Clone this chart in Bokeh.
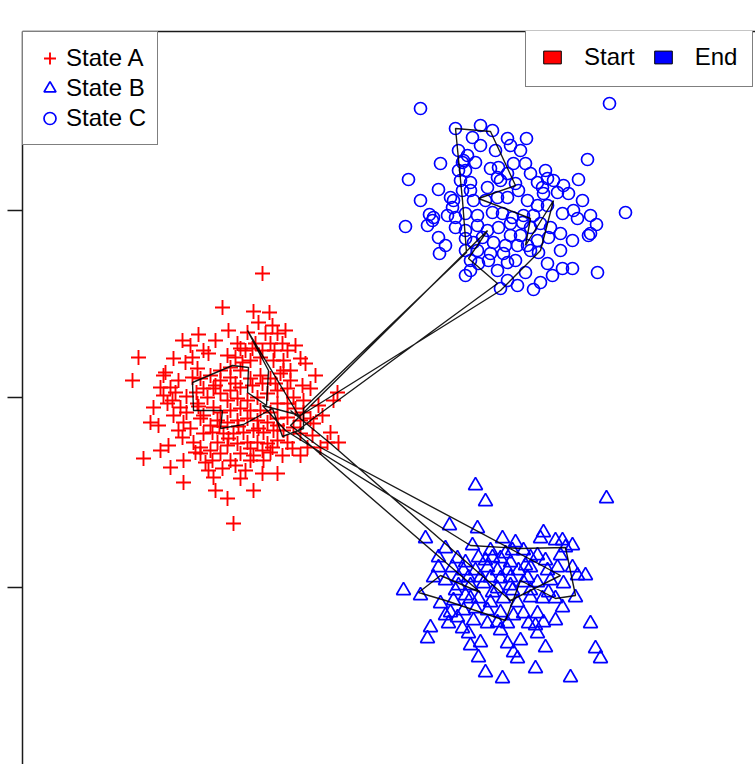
from bokeh.plotting import figure
from bokeh.models import (LinearAxis, FixedTicker, Range1d, Legend, LegendItem,
                          CustomLabelingPolicy)
from bokeh.embed import file_html
from bokeh.resources import INLINE

# ---------------- data (arbitrary units) ----------------
state_a_x = [240, 200, 231, 247, 176, 160, 116, 110, 151, 181, 186, 138, 141, 128, 136, 121, 148, 161, 161, 191,
             193, 218, 231, 205, 211, 240, 255, 241, 228, 208, 305, 316, 315, 311, 283, 293, 280, 265, 255, 243,
             225, 215, 205, 213, 208, 198, 175, 170, 156, 141, 148, 150, 158, 151, 161, 168, 160, 171, 178, 188,
             190, 198, 181, 188, 181, 175, 185, 191, 181, 178, 188, 198, 208, 218, 228, 238, 251, 261, 268, 258,
             248, 238, 228, 218, 208, 198, 205, 215, 225, 235, 245, 255, 265, 271, 265, 255, 248, 238, 228, 218,
             208, 198, 191, 195, 205, 215, 225, 235, 245, 255, 265, 271, 261, 251, 241, 231, 221, 211, 201, 195,
             205, 215, 225, 235, 245, 255, 265, 278, 285, 298, 291, 281, 281, 231, 218, 178, 186, 145, 131, 170,
             163, 248, 260, 230, 218, 288, 278,
             168, 193, 206, 236, 250, 263, 273, 278, 288, 296, 300, 223, 233, 240, 252, 174, 164, 164, 156, 173,
             183, 200, 213, 223, 248, 260, 270, 278, 290, 308, 193, 213, 230, 240, 253, 268, 190, 206, 228, 240,
             146, 138, 153, 143, 250, 220, 261, 273, 255, 236, 216, 197, 178, 176]
state_a_y = [124, 90, 86, 85, 63, 57, 40, 17, 39, 47, 44, 10, 2, -25, -28, -61, -70, -63, -85, -80,
             -93, -81, -93, -101, -126, -76, -76, -63, -63, -63, -45, -45, 5, -3, 34, 22, 12, 47, 64, 64,
             65, 54, 42, 40, 30, 27, 29, 20, 17, 22, 10, -3, -10, -18, -25, -31, -40, -45, -50, -53,
             -63, -56, -36, -28, -18, -6, 0, 9, 9, 19, 22, 17, 20, 27, 37, 40, 37, 37, 27, 24,
             19, 22, 19, 10, 7, 4, -3, -1, -3, 0, 4, 7, 9, 0, -6, -6, -15, -13, -13, -11,
             -13, -15, -10, -23, -25, -23, -21, -23, -25, -21, -20, -30, -33, -33, -35, -33, -35, -36, -36, -45,
             -48, -46, -45, -45, -46, -43, -45, -36, -50, -50, -26, -15, -3, -58, -56, -56, -73, -6, -10, 40,
             35, 54, 54, 49, 49, -21, -23,
             52, 57, 67, 75, 72, 67, 52, 39, 9, -8, -18, 47, 54, 47, 47, 5, 1, -15, -33, -55,
             -65, -71, -68, -73, -55, -58, -51, -58, -38, -35, 12, 14, 12, 14, 14, 17, -35, -41, -51, -53,
             -48, -53, 5, 25, -50, 35, 27, -11, -28, -31, -29, -29, -21, -9]

state_b_x = [453, 463, 584, 427, 455, 403, 480, 493, 521, 518, 540, 550, 450, 468, 416, 435, 443, 456, 470, 478,
             488, 501, 515, 535, 550, 555, 541, 505, 515, 496, 485, 475, 465, 453, 441, 430, 416, 411, 423, 436,
             448, 461, 475, 488, 501, 381, 398, 418, 431, 443, 456, 468, 481, 495, 508, 520, 540, 515, 501, 491,
             478, 465, 453, 441, 408, 405, 426, 440, 446, 458, 485, 491, 495, 515, 523, 506, 521, 568, 573, 578,
             456, 463, 480, 513, 548, 475, 485, 465, 451, 428, 435, 525, 528, 508, 508, 490, 458, 468, 478, 488,
             446, 436, 543, 553, 533,
             423, 463, 483, 503, 523, 538, 508, 526, 448, 433, 470, 490, 423, 478, 498, 448, 513, 533, 563, 533]
state_b_y = [-88, -104, -101, -128, -131, -141, -141, -145, -135, -141, -143, -148, -148, -153, -160, -161, -165, -160, -160, -161,
             -165, -153, -158, -170, -170, -178, -186, -180, -185, -173, -173, -173, -170, -173, -173, -170, -170, -180, -183, -188,
             -188, -186, -191, -188, -185, -193, -198, -206, -203, -198, -201, -205, -201, -205, -200, -201, -210, -216, -216, -218,
             -215, -213, -211, -213, -230, -241, -226, -231, -236, -245, -246, -255, -261, -236, -250, -226, -225, -226, -251, -261,
             -260, -275, -281, -271, -280, -225, -226, -226, -223, -215, -220, -173, -183, -170, -160, -153, -180, -180, -181, -180,
             -180, -180, -150, -200, -201,
             -151, -163, -156, -168, -163, -158, -193, -195, -201, -193, -195, -193, -218, -233, -243, -248, -228, -223, -178, -143]

state_c_x = [398, 587, 433, 450, 458, 470, 485, 488, 504, 418, 386, 416, 565, 556, 603, 383, 407, 405, 416, 417,
             443, 448, 478, 495, 511, 485, 525, 530, 540, 550, 575, 566, 574, 550, 538, 540, 551, 555, 546, 535,
             521, 515, 525, 531, 508, 520, 503, 491, 476, 468, 475, 453, 440, 443, 438, 448, 440, 431, 428, 451,
             463, 475, 485, 496, 505, 515, 525, 511, 501, 490, 480, 470, 455, 443, 433, 433, 443, 455, 465, 476,
             488, 500, 508, 518, 528, 526, 515, 505, 495, 483, 471, 460, 451, 443, 455, 468, 481, 493, 485, 443,
             466, 456, 508, 516, 448, 478, 493, 485, 465, 436, 445, 430, 411, 441, 568, 410,
             458, 473, 498, 436, 523, 541, 560, 568, 498, 488, 448, 475, 503, 518, 425, 423, 398, 538]
state_c_y = [289, 294, 269, 260, 272, 267, 259, 252, 259, 234, 218, 208, 238, 218, 185, 171, 183, 172, 160, 144,
             122, 137, 109, 112, 108, 117, 134, 122, 129, 129, 125, 162, 173, 157, 164, 184, 187, 179, 204, 205,
             204, 215, 219, 217, 224, 210, 234, 234, 230, 229, 220, 235, 235, 227, 217, 215, 207, 197, 200, 197,
             197, 200, 200, 207, 197, 192, 192, 182, 182, 180, 184, 185, 182, 184, 180, 170, 167, 172, 167, 170,
             174, 175, 170, 174, 170, 160, 157, 152, 152, 152, 155, 160, 155, 159, 147, 144, 144, 137, 135, 147,
             137, 134, 147, 145, 207, 217, 214, 224, 210, 227, 242, 190, 180, 237, 164, 177,
             252, 247, 247, 247, 227, 212, 197, 182, 162, 162, 127, 127, 125, 115, 182, 152, 197, 147]

path_x = [278, 225, 246, 244, 225, 226, 210, 170, 171, 200, 198, 221, 250, 260, 281, 281, 444, 440, 433, 468,
          493, 456, 508, 503, 531, 518, 478, 278, 240, 263, 448, 498, 543, 553, 533, 498, 483, 423, 396, 418,
          458, 273, 288, 475, 446, 465, 268, 298, 538, 488, 308, 268]
path_y = [-21, 67, 27, -8, 5, 30, 32, 15, -13, -13, -31, -27, -11, -39, -31, -11, 145, 197, 269, 266,
          212, 199, 179, 152, 197, 147, 107, -18, -8, -33, -148, -151, -150, -198, -201, -183, -223, -203, -195, -178,
          -195, -35, -23, 114, 139, 167, -28, -50, -178, -203, -46, -13]

y_ticks = [-190, 0, 187]

state_labels = ["State A", "State B", "State C"]
phase_labels = ["Start", "End"]

# ---------------- figure ----------------
FONT = "Liberation Sans"
p = figure(width=755, height=764, output_backend="svg", toolbar_location=None,
           x_range=Range1d(0, 733), y_range=Range1d(-367, 366),
           x_axis_type=None, y_axis_type=None,
           min_border_left=22, min_border_top=31, min_border_right=0, min_border_bottom=0)
p.outline_line_color = None
p.background_fill_color = "white"
p.border_fill_color = "white"

yaxis = LinearAxis(ticker=FixedTicker(ticks=y_ticks), major_tick_out=15, major_tick_in=0,
                   minor_tick_out=0, minor_tick_in=0, major_label_text_font_size="0px",
                   major_label_policy=CustomLabelingPolicy(code="return []"),
                   major_label_standoff=0, axis_line_width=1.5, major_tick_line_width=1.5,
                   axis_line_color="#1a1a1a", major_tick_line_color="#1a1a1a")
p.add_layout(yaxis, "left")
topaxis = LinearAxis(ticker=FixedTicker(ticks=[]), major_tick_out=0, major_tick_in=0,
                     minor_tick_out=0, minor_tick_in=0, major_label_text_font_size="0px",
                     major_label_policy=CustomLabelingPolicy(code="return []"),
                     major_label_standoff=0, axis_line_width=1.5, axis_line_color="#1a1a1a")
p.add_layout(topaxis, "above")

ra = p.scatter(state_a_x, state_a_y, marker="cross", size=15, line_color="#ff0000", line_width=1.9)
rb = p.scatter(state_b_x, state_b_y, marker="triangle", size=14, line_color="#0000ff",
               fill_color=None, line_width=1.7)
rc = p.scatter(state_c_x, state_c_y, marker="circle", size=12, line_color="#0000ff",
               fill_color=None, line_width=1.7)
p.line(path_x, path_y, line_color="black", line_width=1.4, line_alpha=0.9)

rs = p.rect([path_x[0]], [path_y[0]], width=17, height=13, width_units="screen", height_units="screen",
            fill_color="#ff0000", line_color="black", line_width=1, visible=False)
re_ = p.rect([path_x[-1]], [path_y[-1]], width=17, height=13, width_units="screen", height_units="screen",
             fill_color="#0000ff", line_color="black", line_width=1, visible=False)

leg1 = Legend(items=[LegendItem(label=state_labels[0], renderers=[ra]),
                     LegendItem(label=state_labels[1], renderers=[rb]),
                     LegendItem(label=state_labels[2], renderers=[rc])],
              location="top_left", margin=0, padding=11, spacing=-1,
              glyph_width=31, glyph_height=30, label_standoff=1, label_height=26,
              label_text_font=FONT, label_text_font_size="24px", label_text_color="black",
              border_line_color="black", border_line_width=1.5,
              background_fill_color="white", background_fill_alpha=1.0,
              inactive_fill_alpha=0.0)
p.add_layout(leg1)

leg2 = Legend(items=[LegendItem(label=phase_labels[0], renderers=[rs]),
                     LegendItem(label=phase_labels[1], renderers=[re_])],
              location=(503, 677), orientation="horizontal", margin=0, padding=15, spacing=17,
              glyph_width=22, glyph_height=16, label_standoff=21, label_height=26,
              label_text_font=FONT, label_text_font_size="24px", label_text_color="black",
              border_line_color="black", border_line_width=1.5,
              background_fill_color="white", background_fill_alpha=1.0,
              inactive_fill_alpha=0.0)
p.add_layout(leg2)

open("out.html", "w").write(file_html(p, INLINE))
